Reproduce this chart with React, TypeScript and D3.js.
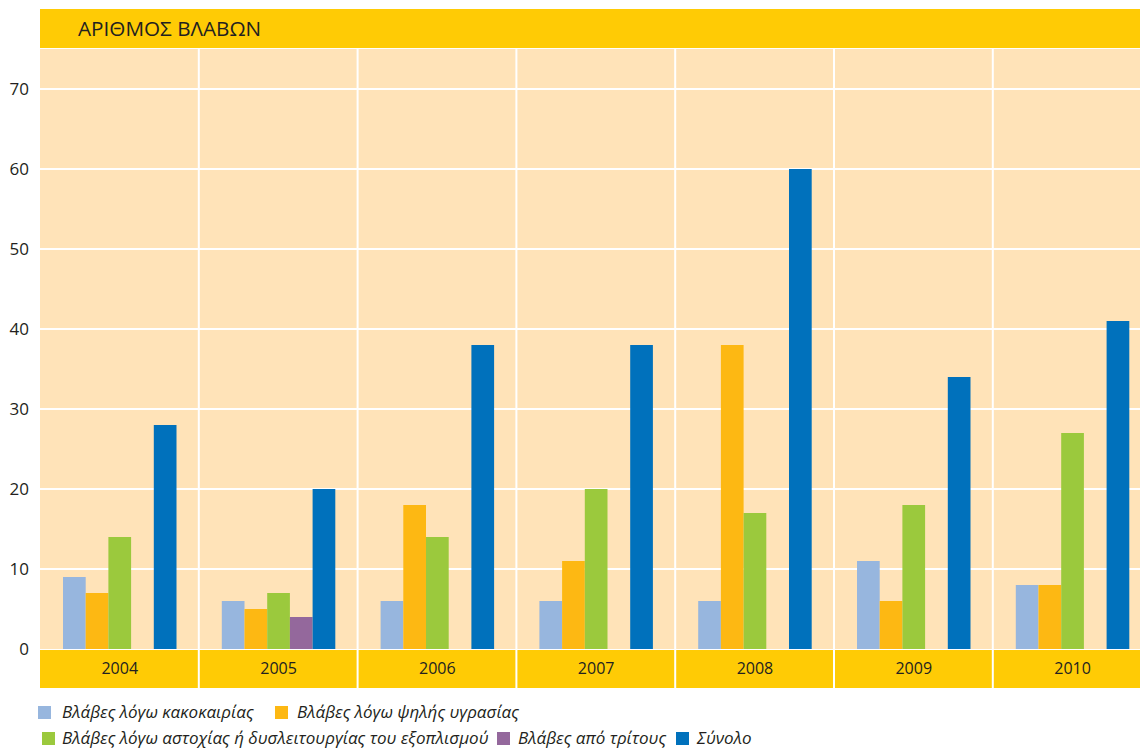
import React from "react";
import * as d3 from "d3";

const years = ["2004", "2005", "2006", "2007", "2008", "2009", "2010"];
const seriesNames = [
  "Βλάβες λόγω κακοκαιρίας",
  "Βλάβες λόγω ψηλής υγρασίας",
  "Βλάβες λόγω αστοχίας ή δυσλειτουργίας του εξοπλισμού",
  "Βλάβες από τρίτους",
  "Σύνολο",
];
const weather = [9, 6, 6, 6, 6, 11, 8];
const humidity = [7, 5, 18, 11, 38, 6, 8];
const equipment = [14, 7, 14, 20, 17, 18, 27];
const thirdParty = [0, 4, 0, 0, 0, 0, 0];
const total = [28, 20, 38, 38, 60, 34, 41];
const yTicks = [0, 10, 20, 30, 40, 50, 60, 70];
const colors = ["#97B6DE", "#FDB813", "#9BC93D", "#94689C", "#0071BC"];
const title = "ΑΡΙΘΜΟΣ ΒΛΑΒΩΝ";

const seriesData = [weather, humidity, equipment, thirdParty, total];

export default function App() {
  const W = 1140, H = 750;
  const left = 40;
  const colW = 158.8;
  const x = d3.scaleBand<string>().domain(years).range([left, left + colW * years.length]).padding(0);
  const inner = d3.scaleBand<number>().domain(d3.range(5)).range([23, 23 + 5 * 22.7]).padding(0);
  const y = d3.scaleLinear().domain([0, 75]).range([649, 49]);
  const font = "'Open Sans', 'Noto Sans', sans-serif";

  const legendRows = [
    [{ i: 0, sx: 38, tx: 62 }, { i: 1, sx: 275, tx: 297 }],
    [{ i: 2, sx: 42, tx: 62 }, { i: 3, sx: 497, tx: 518 }, { i: 4, sx: 676, tx: 697 }],
  ];
  const legendY = [712, 738];

  return (
    <svg width={W} height={H} style={{ position: "absolute", left: 0, top: 0 }} fontFamily={font}>
      <rect x={0} y={0} width={W} height={H} fill="#fff" />
      {/* title band */}
      <rect x={left} y={9} width={W - left} height={39} fill="#FFCB05" />
      <text x={78} y={35.5} fontSize={20.7} fill="#231F20">{title}</text>
      {/* plot background */}
      <rect x={left} y={y(75)} width={W - left} height={y(0) - y(75)} fill="#FFE3B8" />
      {yTicks.filter(t => t > 0).map(t => (
        <line key={t} x1={left} x2={W} y1={y(t)} y2={y(t)} stroke="#fff" strokeWidth={2} />
      ))}
      {years.slice(1).map(yr => (
        <line key={yr} x1={x(yr)!} x2={x(yr)!} y1={y(75)} y2={688} stroke="#fff" strokeWidth={2} />
      ))}
      {/* bars */}
      {years.map((yr, j) => (
        <g key={yr} transform={`translate(${x(yr)},0)`}>
          {seriesData.map((s, i) =>
            s[j] > 0 ? (
              <rect key={i} x={inner(i)!} y={y(s[j])} width={inner.bandwidth()} height={y(0) - y(s[j])} fill={colors[i]} />
            ) : null
          )}
        </g>
      ))}
      {/* x axis band */}
      <rect x={left} y={650} width={W - left} height={38} fill="#FFCB05" />
      {years.slice(1).map(yr => (
        <line key={"b" + yr} x1={x(yr)!} x2={x(yr)!} y1={650} y2={688} stroke="#fff" strokeWidth={2} />
      ))}
      {years.map(yr => (
        <text key={"t" + yr} x={x(yr)! + inner(0)! + 2.5 * inner.bandwidth()} y={674} fontSize={16} textAnchor="middle" fill="#231F20">{yr}</text>
      ))}
      {/* y labels */}
      {yTicks.map(t => (
        <text key={"y" + t} x={29} y={y(t) + 6} fontSize={17} textAnchor="end" fill="#231F20">{t}</text>
      ))}
      {/* legend */}
      {legendRows.map((row, r) => row.map(it => (
        <g key={it.i}>
          <rect x={it.sx} y={legendY[r] - 6} width={13} height={13} fill={colors[it.i]} />
          <text x={it.tx} y={legendY[r] + 6} fontSize={17} fontStyle="italic" fill="#231F20">{seriesNames[it.i]}</text>
        </g>
      )))}
    </svg>
  );
}
